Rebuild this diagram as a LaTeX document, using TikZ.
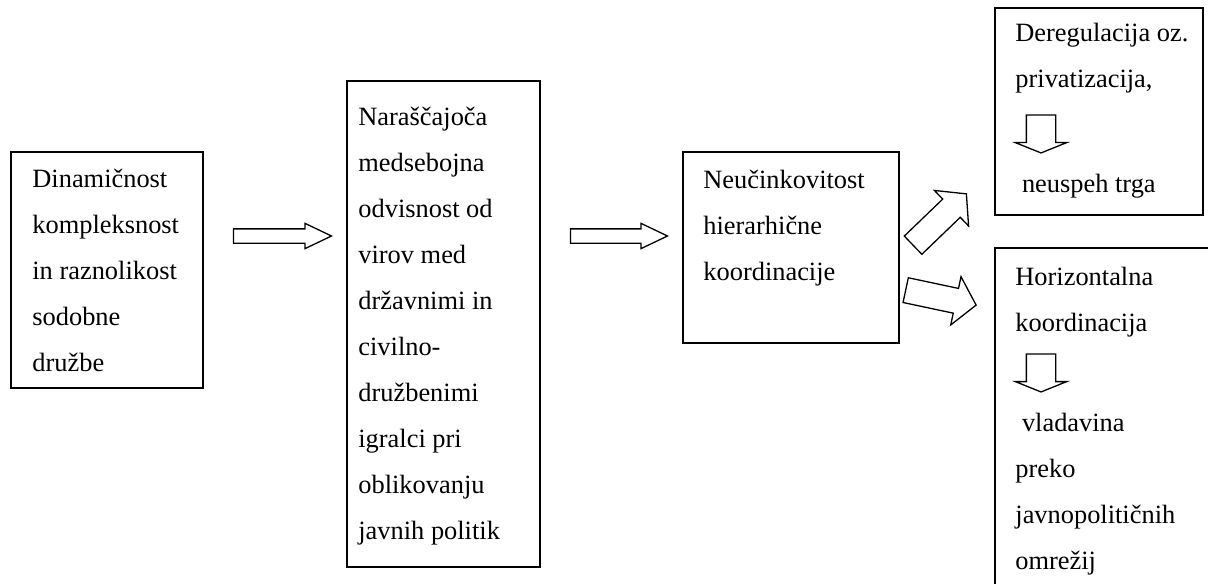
\documentclass[tikz,border=0pt]{standalone}
\usepackage{fontspec}
\setmainfont{Liberation Serif}
\usetikzlibrary{shapes.arrows,fit}
\begin{document}
\begin{tikzpicture}[x=0.5pt,y=-0.5pt,
  box/.style={draw, line width=0.75pt, inner sep=0pt},
  txt/.style={anchor=north west, inner sep=0pt, align=left,
    font=\fontsize{13.2pt}{23pt}\selectfont},
  blockarrow/.style={single arrow, draw, line width=0.65pt, fill=white,
    inner xsep=0pt, single arrow head indent=0pt},
  downarrow/.style={blockarrow, rotate=-90, minimum height=19pt, inner ysep=7pt,
    single arrow head extend=5.5pt, single arrow tip angle=136},
]
\useasboundingbox (0,0) rectangle (1208,583);
\clip (0,0) rectangle (1208,583);
\fill[white] (0,0) rectangle (1208,583);

% corners of the boxes
\coordinate (p1) at (11,152);   \coordinate (q1) at (203,388);
\coordinate (p2) at (347,81);   \coordinate (q2) at (540,567);
\coordinate (p3) at (683,152);  \coordinate (q3) at (899,343);
\coordinate (p4) at (995,8);    \coordinate (q4) at (1203,215);
\coordinate (p5) at (995,248);  \coordinate (q5) at (1220,600);

% boxes
\node[box, fit=(p1)(q1)] (b1) {};
\node[box, fit=(p2)(q2)] (b2) {};
\node[box, fit=(p3)(q3)] (b3) {};
\node[box, fit=(p4)(q4)] (b4) {};
\node[box, fit=(p5)(q5)] (b5) {};

% texts
\node[txt] (t1) at (32,154.8) {\strut Dinamičnost\\kompleksnost\\in raznolikost\\sodobne\\družbe};
\node[txt] (t2) at (358,92.4) {\strut Naraščajoča\\medsebojna\\odvisnost od\\virov med\\državnimi in\\civilno-\\družbenimi\\igralci pri\\oblikovanju\\javnih politik};
\node[txt] (t3) at (703,155.8) {\strut Neučinkovitost\\hierarhične\\koordinacije};
\node[txt] (t4a) at (1015,8.8) {\strut Deregulacija oz.\\privatizacija,};
\node[txt] (t4b) at (1015,159.8) {\strut\hspace*{0.25em}neuspeh trga};
\node[txt] (t5a) at (1015,252.8) {\strut Horizontalna\\koordinacija};
\node[txt] (t5b) at (1015,398.8) {\strut\hspace*{0.25em}vladavina\\preko\\javnopolitičnih\\omrežij};

% horizontal block arrows between the boxes
\node[blockarrow, minimum height=49pt, inner ysep=3.25pt,
  single arrow head extend=2.75pt, single arrow tip angle=51] (a1) at (275,236) {};
\node[blockarrow, minimum height=48.5pt, inner ysep=3.25pt,
  single arrow head extend=2.75pt, single arrow tip angle=51] (a2) at (611.5,236) {};

% diagonal block arrows to the two outcomes
\node[blockarrow, rotate=43.9, minimum height=37pt, inner ysep=6pt,
  single arrow head extend=6pt, single arrow tip angle=100] (a3) at (935.9,223.2) {};
\node[blockarrow, rotate=-12, minimum height=36pt, inner ysep=6pt,
  single arrow head extend=6pt, single arrow tip angle=100] (a4) at (935.7,296.5) {};

% downward arrows inside the outcome boxes
\node[downarrow] (a5) at (1041,131) {};
\node[downarrow] (a6) at (1041,370) {};
\end{tikzpicture}
\end{document}
